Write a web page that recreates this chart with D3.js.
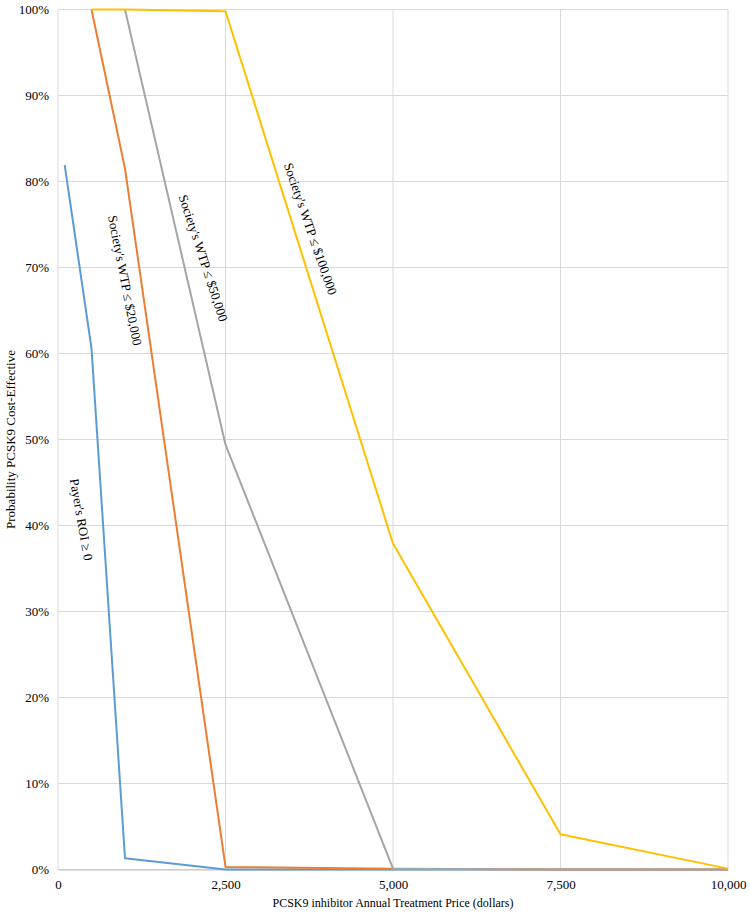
<!DOCTYPE html>
<html>
<head>
<meta charset="utf-8">
<script src="https://cdn.jsdelivr.net/npm/d3@7"></script>
<style>
  body { margin: 0; background: #fff; }
  svg text { font-family: "Liberation Serif", "DejaVu Serif", serif; fill: #000; }
</style>
</head>
<body>
<svg id="chart" width="750" height="913"></svg>
<script>
// tick values
const xTicks = [0, 2500, 5000, 7500, 10000];
const yTicks = [0, 0.1, 0.2, 0.3, 0.4, 0.5, 0.6, 0.7, 0.8, 0.9, 1.0];

// series: price (dollars) -> probability cost-effective
const payerPrice = [100, 500, 1000, 2500, 5000, 7500, 10000];
const payerProb  = [0.819, 0.606, 0.013, 0.0, 0.0, 0.0, 0.0];

const wtp20Price = [500, 1000, 2500, 5000, 7500, 10000];
const wtp20Prob  = [1.0, 0.815, 0.003, 0.001, 0.0, 0.0];

const wtp50Price = [1000, 2500, 5000, 7500, 10000];
const wtp50Prob  = [1.0, 0.494, 0.001, 0.0, 0.0];

const wtp100Price = [500, 1000, 2500, 5000, 7500, 10000];
const wtp100Prob  = [1.0, 1.0, 0.998, 0.379, 0.041, 0.001];

const seriesNames = ["Payer's ROI ≥ 0", "Society's WTP ≤ $20,000", "Society's WTP ≤ $50,000", "Society's WTP ≤ $100,000"];
const seriesColors = ["#5B9BD5", "#ED7D31", "#A5A5A5", "#FFC000"];

const series = [
  { name: seriesNames[0], color: seriesColors[0], x: payerPrice, y: payerProb },
  { name: seriesNames[1], color: seriesColors[1], x: wtp20Price, y: wtp20Prob },
  { name: seriesNames[2], color: seriesColors[2], x: wtp50Price, y: wtp50Prob },
  { name: seriesNames[3], color: seriesColors[3], x: wtp100Price, y: wtp100Prob }
];

// label anchors in data space + rotation
const labelX = [350, 1000, 2170, 3770];
const labelY = [0.407, 0.685, 0.711, 0.745];
const labelAngle = [80, 79, 72, 71];

const svg = d3.select("#chart");
const margin = { left: 58, right: 22, top: 9.5, bottom: 43.5 };
const W = 750, H = 913;
const serif = "'Liberation Serif', 'DejaVu Serif', serif";

const x = d3.scaleLinear().domain([0, 10000]).range([margin.left, W - margin.right]);
const y = d3.scaleLinear().domain([0, 1]).range([H - margin.bottom, margin.top]);

// gridlines
svg.append("g")
  .selectAll("line")
  .data(yTicks)
  .join("line")
  .attr("x1", margin.left).attr("x2", W - margin.right)
  .attr("y1", d => y(d)).attr("y2", d => y(d))
  .attr("stroke", "#d9d9d9").attr("stroke-width", 1);

svg.append("g")
  .selectAll("line")
  .data(xTicks)
  .join("line")
  .attr("x1", d => x(d)).attr("x2", d => x(d))
  .attr("y1", margin.top).attr("y2", H - margin.bottom)
  .attr("stroke", "#d9d9d9").attr("stroke-width", 1);

// axes
const yAxis = d3.axisLeft(y).tickValues(yTicks).tickFormat(d3.format(".0%")).tickSize(0).tickPadding(9);
const yG = svg.append("g").attr("transform", `translate(${margin.left},0)`).call(yAxis)
  .attr("font-family", serif).attr("font-size", 13);
yG.select(".domain").remove();

const xAxis = d3.axisBottom(x).tickValues(xTicks).tickFormat(d3.format(",")).tickSize(0).tickPadding(10);
const xG = svg.append("g").attr("transform", `translate(0,${H - margin.bottom})`).call(xAxis)
  .attr("font-family", serif).attr("font-size", 13);
xG.select(".domain").attr("stroke", "#bfbfbf");

// lines
const line = d3.line().x(d => x(d[0])).y(d => y(d[1]));

svg.append("g")
  .selectAll("path")
  .data(series)
  .join("path")
  .attr("d", s => line(s.x.map((v, i) => [v, s.y[i]])))
  .attr("fill", "none")
  .attr("stroke", s => s.color)
  .attr("stroke-width", 2)
  .attr("stroke-linejoin", "round");

// series labels
svg.append("g")
  .selectAll("text")
  .data(series)
  .join("text")
  .attr("transform", (s, i) => `translate(${x(labelX[i])},${y(labelY[i])}) rotate(${labelAngle[i]})`)
  .attr("text-anchor", "middle")
  .attr("dy", "0.35em")
  .style("font-size", "13px")
  .text(s => s.name);

// axis titles
svg.append("text")
  .attr("x", (margin.left + W - margin.right) / 2)
  .attr("y", 907)
  .attr("text-anchor", "middle")
  .style("font-size", "12px")
  .text("PCSK9 inhibitor Annual Treatment Price (dollars)");

svg.append("text")
  .attr("transform", `translate(15,${(margin.top + H - margin.bottom) / 2}) rotate(-90)`)
  .attr("text-anchor", "middle")
  .style("font-size", "13px")
  .text("Probability PCSK9 Cost-Effective");
</script>
</body>
</html>
